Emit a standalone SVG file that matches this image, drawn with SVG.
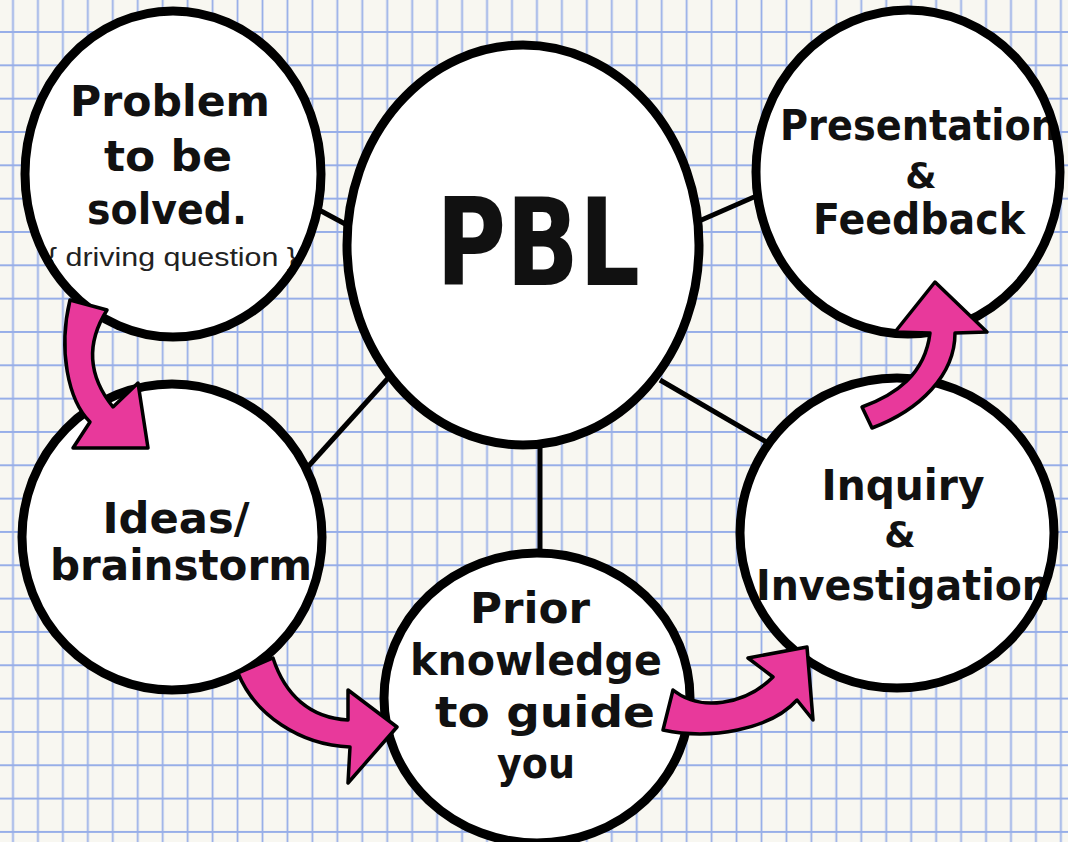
<svg xmlns="http://www.w3.org/2000/svg" width="1068" height="842" viewBox="0 0 1068 842">
<defs>
<pattern id="grid" patternUnits="userSpaceOnUse" x="0.5" y="-18" width="24.95" height="33.33">
<path d="M12.5,0 V33.33 M0,16.67 H24.95" stroke="#97aee8" stroke-width="1.8" fill="none"/>
</pattern>
<style>
.bub{fill:#ffffff}
.rim{fill:none;stroke:#000;stroke-width:9}
.link{stroke:#000;stroke-width:5;fill:none}
.t{font-family:"DejaVu Sans","Noto Sans",sans-serif;font-weight:bold;fill:#111;text-anchor:middle;font-size:42px}
.amp{font-size:36px}
.s{font-family:"Liberation Sans",sans-serif;fill:#222;text-anchor:middle;font-size:25px}
.arr{fill:#e8399b;stroke:#000;stroke-width:3.5;stroke-linejoin:round}
</style>
</defs>
<rect width="1068" height="842" fill="#f8f7f1"/>
<rect width="1068" height="842" fill="url(#grid)"/>

<g id="connectors">
<line class="link" x1="310" y1="205" x2="360" y2="232"/>
<line class="link" x1="690" y1="225" x2="770" y2="190"/>
<line class="link" x1="400" y1="365" x2="305" y2="470"/>
<line class="link" x1="540" y1="440" x2="540" y2="560"/>
<line class="link" x1="660" y1="380" x2="780" y2="450"/>
</g>

<g id="node-problem">
<ellipse class="bub" cx="173" cy="174" rx="148" ry="163"/>
<text class="t" x="170" y="116" textLength="200" lengthAdjust="spacingAndGlyphs">Problem</text>
<text class="t" x="168" y="171" textLength="128" lengthAdjust="spacingAndGlyphs">to be</text>
<text class="t" x="167" y="224" textLength="160" lengthAdjust="spacingAndGlyphs">solved.</text>
<text class="s" x="172" y="266" textLength="250" lengthAdjust="spacingAndGlyphs">{ driving question }</text>
<ellipse class="rim" cx="173" cy="174" rx="148" ry="163"/>
</g>

<g id="node-pbl">
<ellipse class="bub" cx="523" cy="245" rx="176" ry="200"/>
<text class="t" x="538" y="285" style="font-size:122px" textLength="204" lengthAdjust="spacingAndGlyphs">PBL</text>
<ellipse class="rim" cx="523" cy="245" rx="176" ry="200"/>
</g>

<g id="node-presentation">
<ellipse class="bub" cx="908" cy="172" rx="152" ry="162"/>
<text class="t" x="919" y="140" textLength="278" lengthAdjust="spacingAndGlyphs">Presentation</text>
<text class="t amp" x="921" y="188">&amp;</text>
<text class="t" x="919" y="234" textLength="212" lengthAdjust="spacingAndGlyphs">Feedback</text>
<ellipse class="rim" cx="908" cy="172" rx="152" ry="162"/>
</g>

<g id="node-ideas">
<ellipse class="bub" cx="172" cy="537" rx="150" ry="153"/>
<text class="t" x="176" y="533" textLength="147" lengthAdjust="spacingAndGlyphs">Ideas/</text>
<text class="t" x="181" y="580" textLength="262" lengthAdjust="spacingAndGlyphs">brainstorm</text>
<ellipse class="rim" cx="172" cy="537" rx="150" ry="153"/>
</g>

<g id="node-prior">
<ellipse class="bub" cx="537" cy="698" rx="153" ry="145"/>
<text class="t" x="530" y="623" textLength="120" lengthAdjust="spacingAndGlyphs">Prior</text>
<text class="t" x="536" y="675" textLength="252" lengthAdjust="spacingAndGlyphs">knowledge</text>
<text class="t" x="545" y="727" textLength="220" lengthAdjust="spacingAndGlyphs">to guide</text>
<text class="t" x="536" y="778" textLength="78" lengthAdjust="spacingAndGlyphs">you</text>
<ellipse class="rim" cx="537" cy="698" rx="153" ry="145"/>
</g>

<g id="node-inquiry">
<ellipse class="bub" cx="897" cy="533" rx="157" ry="155"/>
<text class="t" x="903" y="500" textLength="163" lengthAdjust="spacingAndGlyphs">Inquiry</text>
<text class="t amp" x="900" y="547">&amp;</text>
<text class="t" x="903" y="600" textLength="294" lengthAdjust="spacingAndGlyphs">Investigation</text>
<ellipse class="rim" cx="897" cy="533" rx="157" ry="155"/>
</g>

<g id="arrows">
<path class="arr" d="M70,300 L107,310 C88,340 85,372 113,407 L138,383 L148,448 L73,448 L90,422 C68,400 58,350 70,300 Z"/>
<path class="arr" d="M238,673 L273,658 C285,695 310,718 348,720 L348,690 L397,727 L348,783 L350,747 C300,745 255,715 238,673 Z"/>
<path class="arr" d="M663,730 L673,690 C700,712 745,705 773,677 L748,658 L807,647 L813,720 L797,700 C770,730 710,740 663,730 Z"/>
<path class="arr" d="M862,407 C895,395 925,375 930,333 L895,332 L935,282 L987,332 L955,333 C955,375 920,410 872,428 Z"/>
</g>
</svg>
